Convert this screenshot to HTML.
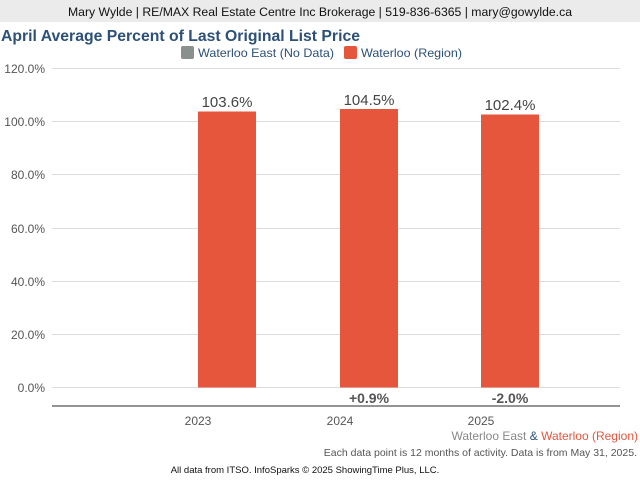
<!DOCTYPE html>
<html><head><meta charset="utf-8"><style>
body{margin:0;width:640px;height:480px;background:#fff;overflow:hidden}
svg{display:block;font-family:"Liberation Sans",Arial,sans-serif}
</style></head><body>
<svg width="640" height="480" viewBox="0 0 640 480">
<rect x="0" y="0" width="640" height="22" fill="#ebebeb"/>
<text x="320" y="16" font-size="12.2" fill="#111" text-anchor="middle" textLength="504" lengthAdjust="spacingAndGlyphs">Mary Wylde | RE/MAX Real Estate Centre Inc Brokerage | 519-836-6365 | mary@gowylde.ca</text>
<text x="1" y="41" font-size="16" font-weight="bold" fill="#2c5078" textLength="359" lengthAdjust="spacingAndGlyphs">April Average Percent of Last Original List Price</text>
<rect x="181" y="46" width="13" height="13" rx="2" fill="#8a908e"/>
<text x="198" y="57" font-size="12" fill="#2c5078" textLength="136" lengthAdjust="spacingAndGlyphs">Waterloo East (No Data)</text>
<rect x="344" y="46" width="13" height="13" rx="2" fill="#e5563d"/>
<text x="361" y="57" font-size="12" fill="#2c5078" textLength="101" lengthAdjust="spacingAndGlyphs">Waterloo (Region)</text>
<g stroke="#dcdcdc" stroke-width="1">
<line x1="52" y1="68.5" x2="620" y2="68.5"/>
<line x1="52" y1="121.5" x2="620" y2="121.5"/>
<line x1="52" y1="174.5" x2="620" y2="174.5"/>
<line x1="52" y1="228.5" x2="620" y2="228.5"/>
<line x1="52" y1="281.5" x2="620" y2="281.5"/>
<line x1="52" y1="334.5" x2="620" y2="334.5"/>
<line x1="52" y1="387.5" x2="620" y2="387.5"/>
</g>
<g font-size="12" fill="#555" text-anchor="end">
<text x="45" y="73">120.0%</text>
<text x="45" y="126">100.0%</text>
<text x="45" y="179">80.0%</text>
<text x="45" y="233">60.0%</text>
<text x="45" y="286">40.0%</text>
<text x="45" y="339">20.0%</text>
<text x="45" y="392">0.0%</text>
</g>
<g fill="#e5563d">
<rect x="198" y="111.5" width="58" height="276"/>
<rect x="340" y="109" width="58" height="278.5"/>
<rect x="481" y="114.5" width="58" height="273"/>
</g>
<g font-size="15" fill="#444" text-anchor="middle">
<text x="227" y="107">103.6%</text>
<text x="369" y="105">104.5%</text>
<text x="510" y="110">102.4%</text>
</g>
<line x1="52" y1="406" x2="620" y2="406" stroke="#555" stroke-width="1.2"/>
<g font-size="14" font-weight="bold" fill="#555" text-anchor="middle">
<text x="369" y="403">+0.9%</text>
<text x="510" y="403">-2.0%</text>
</g>
<g font-size="12" fill="#555" text-anchor="middle">
<text x="198" y="425">2023</text>
<text x="340" y="425">2024</text>
<text x="481" y="425">2025</text>
</g>
<text x="638" y="440" font-size="12" text-anchor="end" fill="#888">Waterloo East <tspan fill="#2c5078">&amp;</tspan> <tspan fill="#e5563d">Waterloo (Region)</tspan></text>
<text x="637" y="456" font-size="10.5" text-anchor="end" fill="#555">Each data point is 12 months of activity. Data is from May 31, 2025.</text>
<text x="305" y="473" font-size="9.5" text-anchor="middle" fill="#111">All data from ITSO. InfoSparks © 2025 ShowingTime Plus, LLC.</text>
</svg>
</body></html>
